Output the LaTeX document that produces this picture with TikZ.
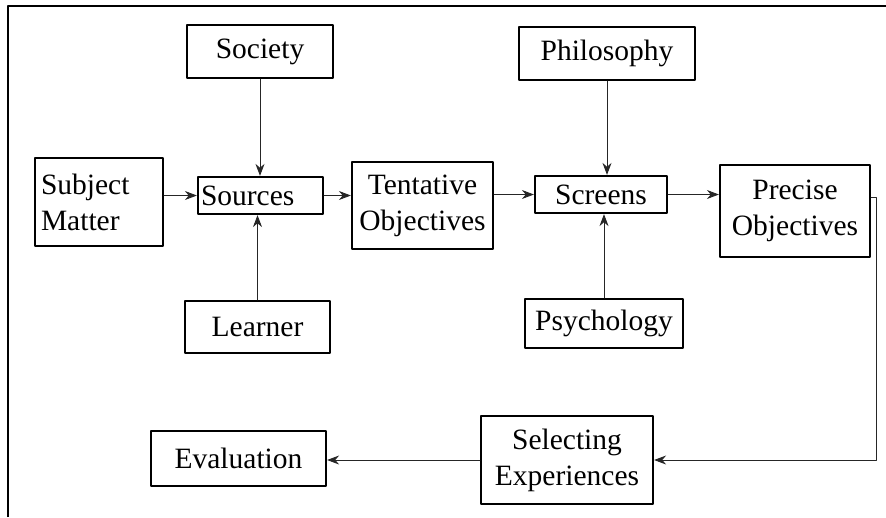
\documentclass[tikz,border=0pt]{standalone}
\usepackage{fontspec}
\setmainfont{Liberation Serif}
\usetikzlibrary{arrows.meta}

\begin{document}
\begin{tikzpicture}[line cap=round,line join=round,>={Stealth[length=12pt,width=9pt]},x=1pt,y=-1pt,
  blk/.style={draw,line width=2.2pt,inner sep=0pt,align=center,font=\fontsize{29.5}{36}\selectfont},
  arr/.style={->,line width=0.9pt,draw=black!85}]
\useasboundingbox (0,0) rectangle (886,517);
\draw [line width=2.5pt,line cap=butt] (8,517) -- (8,6) -- (886,6);
\node[blk,minimum width=128,minimum height=88,text width=116,inner xsep=6pt,align=left] (subj) at (99,202) {Subject\\Matter};
\node[blk,minimum width=125,minimum height=37,text width=119,inner xsep=3pt,align=left] (src) at (260.5,195.5) {Sources};
\node[blk,minimum width=141,minimum height=87] (tent) at (422.5,205.5) {Tentative\\Objectives};
\node[blk,minimum width=132,minimum height=37] (scr) at (601,194.5) {Screens};
\node[blk,minimum width=150,minimum height=92] (prec) at (795,211) {Precise\\Objectives};
\node[blk,minimum width=146,minimum height=53] (soc) at (260,51.5) {Society};
\node[blk,minimum width=176,minimum height=53] (phil) at (607,53.5) {Philosophy};
\node[blk,minimum width=145,minimum height=52] (lrn) at (257.5,327) {Learner};
\node[blk,minimum width=158,minimum height=49] (psy) at (604,323.5) {Psychology};
\node[blk,minimum width=172,minimum height=88] (sel) at (567,460) {Selecting\\Experiences};
\node[blk,minimum width=175,minimum height=55] (eval) at (238.5,458.5) {Evaluation};
\coordinate (fbtop) at (876,197);
\draw [arr] (subj.east |- src.west) -- (src.west);
\draw [arr] (src.east) -- (src.east -| tent.west);
\draw [arr] (tent.east |- scr.west) -- (scr.west);
\draw [arr] (scr.east) -- (scr.east -| prec.west);
\draw [arr] (soc.south) -- (soc.south |- src.north);
\draw [arr] (lrn.north) -- (lrn.north |- src.south);
\draw [arr] (phil.south) -- (phil.south |- scr.north);
\draw [arr] (psy.north) -- (psy.north |- scr.south);
\draw [arr] (fbtop -| prec.east) -- (fbtop) |- (sel.east);
\draw [arr] (sel.west) -- (sel.west -| eval.east);
\end{tikzpicture}
\end{document}
